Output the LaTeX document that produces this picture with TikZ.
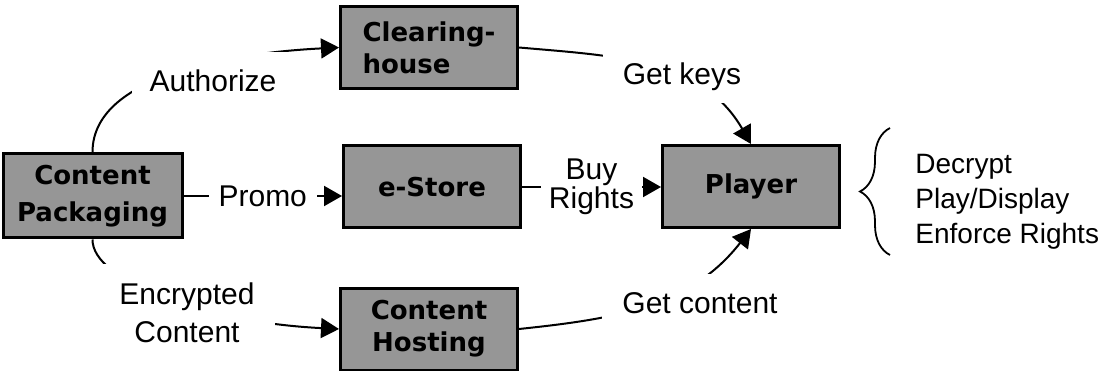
\documentclass[tikz,border=0pt]{standalone}
\usepackage{fontspec}
\setmainfont{Liberation Sans}
\newfontfamily\boxfont{DejaVu Sans}
\usepackage{xcolor}
\usetikzlibrary{arrows, arrows.meta}
\usetikzlibrary{positioning}
\usetikzlibrary{calc}
\usetikzlibrary{decorations.pathreplacing}
\definecolor{boxgray}{RGB}{150,150,150}

\begin{document}
\begin{tikzpicture}[x=0.5pt, y=0.5pt,
	>={Triangle[length=9pt,width=10pt]},
	unit/.style={draw, line width=1.5pt, fill=boxgray, minimum width=88.5pt, minimum height=41pt, inner sep=0pt, font=\boxfont\bfseries\fontsize{13}{16}\selectfont},
	lbl/.style={fill=white, inner sep=0pt, font=\fontsize{15}{17.5}\selectfont},
	link/.style={line width=1pt}]
					\useasboundingbox (0,0) rectangle (1104,370);
					% draw boxes
					\node[unit, minimum width=89.5pt, minimum height=42pt, align=center] (pack) at (92.5,174) {Content\\[2.5pt]Packaging};
					\node[unit, align=left] (clear) at (429,322.5) {Clearing-\\house};
					\node[unit] (store) at (432,183) {e-Store};
					\node[unit] (player) at (751,183.5) {Player};
					\node[unit, align=center] (host) at (429,41) {Content\\Hosting};
					
					% draw curved links
					\draw[link, ->] (pack.north) .. controls (92,300) and (250,318) .. (clear.west);
					\draw[link, ->] (clear.east) to[out=-5, in=120] (player.north);
					\draw[link, ->] (pack.south) .. controls (92,90) and (200,48) .. (host.west);
					\draw[link, ->] (host.east) to[out=6, in=-128] (player.south);
					
					% straight links
					\draw[link, ->] (pack.east) -- (pack.east -| store.west) node[lbl, midway, inner xsep=5pt] {Promo};
					\draw[link, ->] (store.east) -- (store.east -| player.west) node[lbl, midway, align=center, inner xsep=4pt] {Buy\\[-3pt]Rights};
					
					% labels on the curves
					\node[lbl, inner xsep=9pt, inner ysep=9pt, anchor=base] (authz) at (213,278) {Authorize};
					\node[lbl, inner xsep=10pt, inner ysep=6pt, anchor=base] (keys) at (682,285) {Get keys};
					\node[lbl, inner xsep=10pt, inner ysep=9pt, anchor=base] (getc) at (700,57) {Get content};
					\node[lbl, align=center, inner xsep=10pt, inner ysep=9pt] (encr) at (187,57.5) {Encrypted\\[1.5pt]Content};
					
					% player tasks
					\draw[line width=0.9pt, decorate, decoration={brace, amplitude=15pt}] (890,115) -- (890,242);
					\node[lbl, anchor=north west, align=left, font=\fontsize{14}{17.5}\selectfont] (tasks) at (915,216) {Decrypt\\Play/Display\\Enforce Rights};
				\end{tikzpicture}
\end{document}
